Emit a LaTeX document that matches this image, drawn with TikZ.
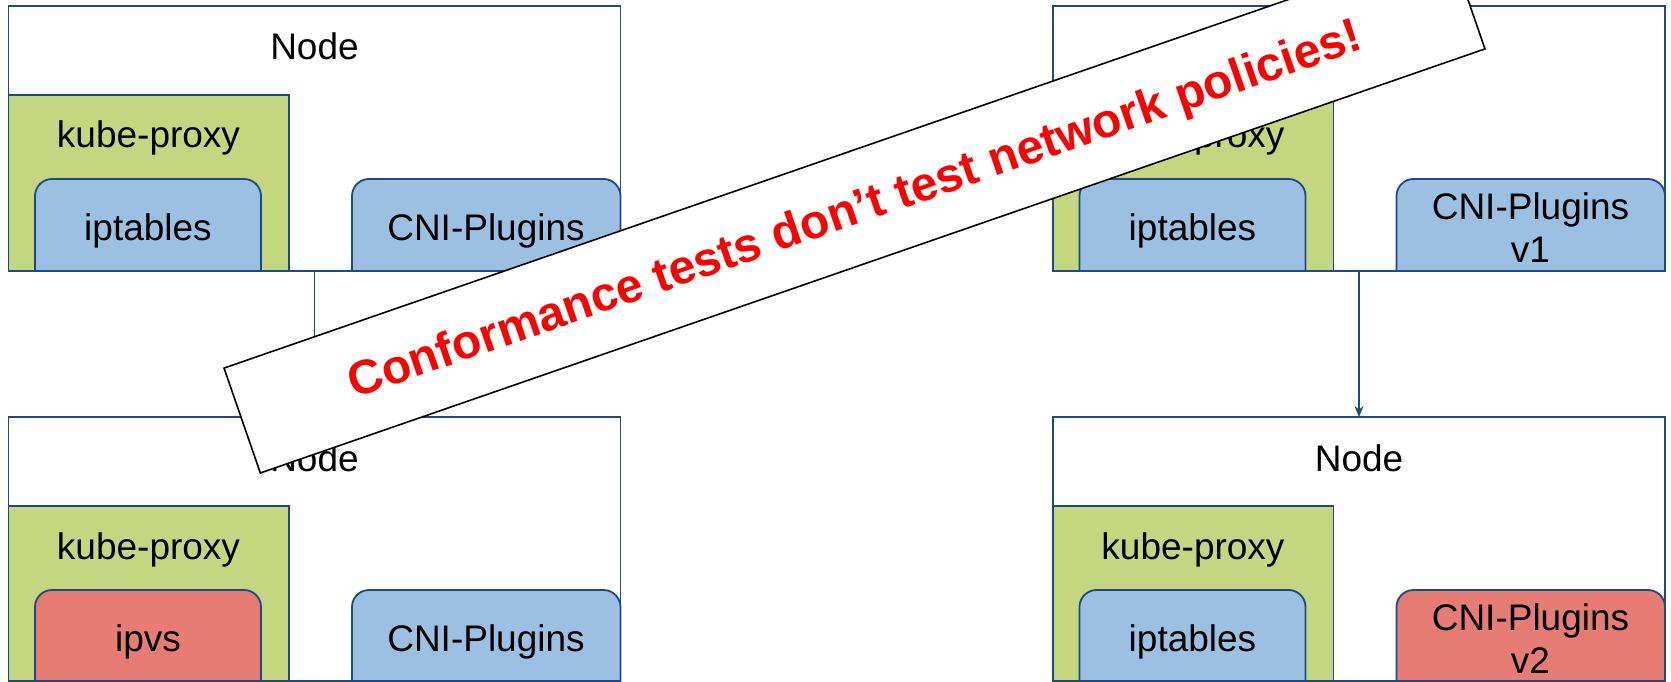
\documentclass[tikz,border=0pt]{standalone}
\usepackage{fontspec}
\setmainfont{Liberation Sans}
\usetikzlibrary{arrows.meta}
\definecolor{nodeblue}{RGB}{28,74,135}
\definecolor{kpgreen}{RGB}{196,215,128}
\definecolor{plblue}{RGB}{155,192,226}
\definecolor{plred}{RGB}{230,124,115}
\definecolor{banred}{RGB}{255,0,0}
\tikzset{
  geo/.style={inner sep=0pt, outer sep=0pt, anchor=north west},
  nodebox/.style={geo, draw=nodeblue, fill=white, line width=1.8pt, minimum width=612pt, minimum height=#1},
  proxybox/.style={geo, draw=nodeblue, fill=kpgreen, line width=1.8pt, minimum width=280.5pt, minimum height=#1},
  innergeo/.style={geo, minimum width=226pt, minimum height=#1},
  cnigeo/.style={geo, minimum width=268.5pt, minimum height=#1},
  lbl/.style={inner sep=0pt, outer sep=0pt, font=\fontsize{37}{43}\selectfont, text=black},
  conn/.style={draw=nodeblue, line width=1.8pt, -{Stealth[length=11pt,width=9pt]}},
  banner/.style={draw=black, fill=white, line width=1.6pt, inner sep=0pt,
    minimum width=1296pt, minimum height=111pt, text=banred,
    font=\bfseries\fontsize{48}{58}\selectfont, text height=34pt, text depth=2pt}
}
% #1 geometry node name, #2 fill colour
\newcommand\toproundbox[2]{%
  \draw[fill=#2, draw=nodeblue, line width=1.8pt]
    (#1.south west) -- ([yshift=-17pt]#1.north west)
    arc[start angle=180, end angle=90, radius=17pt]
    -- ([xshift=-17pt]#1.north east)
    arc[start angle=90, end angle=0, radius=17pt]
    -- (#1.south east) -- cycle;}
% #1 name, #2 X, #3 Y (negative), #4 height, #5 inner fill, #6 inner text, #7 cni fill, #8 cni text
\newcommand\kubenode[8]{%
  \node[nodebox=#4] (#1) at (#2,#3) {};
  \node[proxybox=#4-89] (#1-kp) at (#2,#3-89) {};
  \node[innergeo=#4-173] (#1-in) at (#2+26.5,#3-173) {};
  \node[cnigeo=#4-173] (#1-cni) at (#2+343.5,#3-173) {};
  \toproundbox{#1-in}{#5}
  \toproundbox{#1-cni}{#7}
  \node[lbl, anchor=base] (#1-t) at (#2+306,#3-54) {Node};
  \node[lbl, anchor=base] (#1-kpt) at (#2+140,#3-142) {kube-proxy};
  \node[lbl, anchor=base] (#1-int) at (#2+139.5,#3-234) {#6};
  #8}
\begin{document}
\begin{tikzpicture}[x=1pt, y=1pt]
\useasboundingbox (0,0) rectangle (1671,-682);
\kubenode{tl}{8.5}{-6}{265}{plblue}{iptables}{plblue}{\node[lbl, anchor=base] (tl-cnit) at (8.5+477.5,-6-234) {CNI-Plugins};}
\kubenode{tr}{1053}{-6}{265}{plblue}{iptables}{plblue}{\node[lbl, align=center] (tr-cnit) at (1053+477.5,-6-221.5) {CNI-Plugins\\v1};}
\kubenode{bl}{8.5}{-417}{264}{plred}{ipvs}{plblue}{\node[lbl, anchor=base] (bl-cnit) at (8.5+477.5,-417-234) {CNI-Plugins};}
\kubenode{br}{1053}{-417}{264}{plblue}{iptables}{plred}{\node[lbl, align=center] (br-cnit) at (1053+477.5,-417-221.5) {CNI-Plugins\\v2};}
\draw[conn] (tl.south) -- (bl.north);
\draw[conn] (tr.south) -- (br.north);
\node[banner, rotate=19.1] (ban) at (854.5,-208.5) {Conformance tests don’t test network policies!};
\end{tikzpicture}
\end{document}
